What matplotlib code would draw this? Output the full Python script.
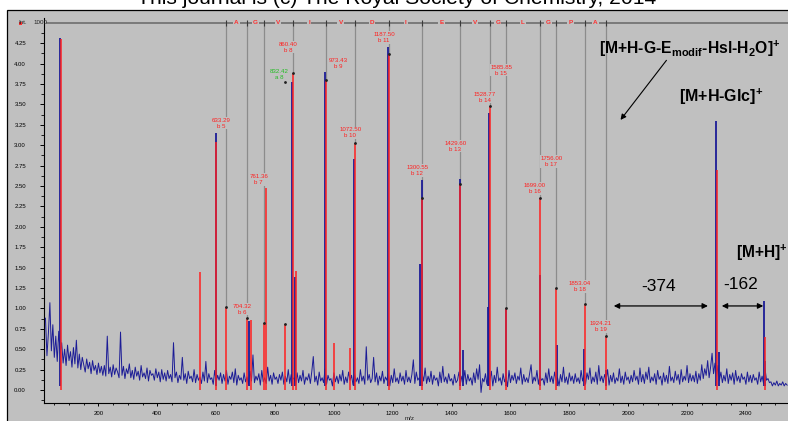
import numpy as np
import matplotlib
matplotlib.use('Agg')
import matplotlib.pyplot as plt
from matplotlib.patches import Rectangle
from matplotlib.ticker import FixedLocator, MultipleLocator

plt.rcParams['font.family'] = ['Liberation Sans', 'DejaVu Sans']
# only the bold fragment labels use mathtext
plt.rcParams['mathtext.fontset'] = 'custom'
plt.rcParams['mathtext.rm'] = 'Liberation Sans:bold'
plt.rcParams['mathtext.bf'] = 'Liberation Sans:bold'
plt.rcParams['mathtext.it'] = 'Liberation Sans:bold'

# b-ion ladder
b_names = ['b 5', 'b 6', 'b 7', 'b 8', 'b 9', 'b 10', 'b 11', 'b 12', 'b 13',
           'b 14', 'b 15', 'b 16', 'b 17', 'b 18', 'b 19']
b_mz = [633.29, 704.32, 761.36, 860.40, 973.43, 1072.50, 1187.50, 1300.55, 1429.60,
        1528.77, 1585.85, 1699.00, 1756.00, 1853.04, 1924.21]
b_int = [1.02, 0.88, 0.82, 3.89, 3.80, 3.03, 4.12, 2.35, 2.52,
         3.48, 1.00, 2.35, 1.25, 1.06, 0.66]
residues = ['A', 'G', 'V', 'I', 'V', 'D', 'I', 'E', 'V', 'G', 'L', 'G', 'P', 'A']

# label heights (intensity of the mass line) for the b-ion labels
b_label_y = [3.32, 1.04, 2.63, 4.25, 4.05, 3.20, 4.37, 2.74, 3.04,
             3.64, 3.97, 2.52, 2.85, 1.32, 0.83]

# a-ion
a_name = 'a 8'
a_mz = 832.42
a_int = 0.81

# red sticks (assigned peaks)
red_mz = [73, 545, 600, 633.29, 704.32, 717, 761.36, 770, 832.42, 860.40, 872,
          973.43, 1000, 1055, 1072.50, 1187.50, 1300.55, 1429.60, 1528.77, 1585.85,
          1699.00, 1756.00, 1853.04, 1924.21, 2302, 2464]
red_int = [4.30, 1.45, 3.04, 1.02, 0.88, 0.86, 0.82, 2.47, 0.81, 3.89, 1.46,
           3.80, 0.58, 0.52, 3.03, 4.12, 2.35, 2.52, 3.48, 1.00,
           2.35, 1.25, 1.06, 0.66, 2.70, 0.65]

# blue sticks (raw spectrum peaks)
blue_mz = [71, 598, 713, 857, 868, 971, 1069, 1185, 1298, 1294, 1427, 1440, 1526,
           1522, 1584, 1701, 1758, 1851, 1923, 2300, 2310, 2461, 2466]
blue_int = [4.31, 3.15, 0.84, 3.77, 1.39, 3.90, 2.83, 4.20, 2.57, 1.55, 2.59, 0.49, 3.40,
            1.02, 1.00, 1.41, 0.55, 0.50, 0.25, 3.30, 0.47, 1.09, 0.35]

# baseline noise, read every 5 m/z starting at m/z 20 (two rows = 200 m/z)
noise_start = 20
noise_step = 5
noise = [
    0.88, 0.42, 0.70, 1.07, 0.48, 0.80, 0.40, 0.66, 0.35, 0.72, 0.45, 0.58, 0.33, 0.50, 0.30, 0.55, 0.36, 0.47, 0.28, 0.52,
    0.32, 0.61, 0.27, 0.44, 0.25, 0.40, 0.31, 0.22, 0.38, 0.26, 0.34, 0.20, 0.36, 0.24, 0.30, 0.19, 0.33, 0.21, 0.29, 0.18,
    0.30, 0.17, 0.66, 0.20, 0.28, 0.16, 0.31, 0.19, 0.27, 0.22, 0.15, 0.71, 0.18, 0.29, 0.14, 0.26, 0.20, 0.32, 0.15, 0.24,
    0.13, 0.28, 0.17, 0.23, 0.12, 0.30, 0.16, 0.21, 0.14, 0.27, 0.11, 0.24, 0.18, 0.20, 0.12, 0.26, 0.15, 0.22, 0.10, 0.25,
    0.13, 0.21, 0.11, 0.24, 0.14, 0.19, 0.10, 0.58, 0.15, 0.22, 0.09, 0.18, 0.13, 0.40, 0.12, 0.20, 0.08, 0.23, 0.14, 0.17,
    0.10, 0.25, 0.09, 0.19, 0.12, 0.16, 0.08, 0.22, 0.11, 0.35, 0.09, 0.20, 0.13, 0.15, 0.07, 0.24, 0.10, 0.18, 0.12, 0.21,
    0.08, 0.19, 0.11, 0.24, 0.07, 0.17, 0.13, 0.22, 0.09, 0.26, 0.06, 0.18, 0.12, 0.15, 0.08, 0.21, 0.10, 0.16, 0.07, 0.23,
    0.11, 0.43, 0.09, 0.17, 0.12, 0.20, 0.06, 0.24, 0.10, 0.15, 0.08, 0.28, 0.11, 0.18, 0.07, 0.21, 0.13, 0.16, 0.08, 0.19,
    0.12, 0.22, 0.07, 0.17, 0.10, 0.25, 0.08, 0.19, 0.13, 0.15, 0.06, 0.21, 0.09, 0.18, 0.11, 0.24, 0.07, 0.16, 0.12, 0.20,
    0.08, 0.23, 0.41, 0.10, 0.17, 0.06, 0.22, 0.11, 0.15, 0.09, 0.26, 0.07, 0.18, 0.12, 0.14, 0.05, 0.21, 0.10, 0.17, 0.08,
    0.19, 0.11, 0.24, 0.07, 0.16, 0.09, 0.22, 0.12, 0.18, 0.06, 0.20, 0.10, 0.15, 0.08, 0.25, 0.11, 0.17, 0.07, 0.53, 0.12,
    0.19, 0.09, 0.14, 0.40, 0.10, 0.21, 0.06, 0.17, 0.11, 0.23, 0.08, 0.16, 0.12, 0.20, 0.05, 0.18, 0.09, 0.26, 0.10, 0.15,
    0.08, 0.21, 0.11, 0.17, 0.07, 0.24, 0.10, 0.16, 0.09, 0.19, 0.37, 0.08, 0.22, 0.12, 0.15, 0.06, 0.20, 0.11, 0.27, 0.08,
    0.17, 0.10, 0.23, 0.07, 0.18, 0.12, 0.15, 0.05, 0.22, 0.09, 0.29, 0.10, 0.16, 0.08, 0.20, 0.11, 0.14, 0.06, 0.19, 0.09,
    0.12, 0.22, 0.08, 0.17, 0.10, 0.24, 0.07, 0.19, 0.11, 0.15, 0.06, 0.21, 0.09, 0.26, 0.13, 0.31, -0.03, 0.14, 0.10, 0.20,
    0.07, 0.17, 0.12, 0.23, 0.05, 0.18, 0.09, 0.28, 0.11, 0.15, 0.06, 0.20, 0.10, 0.16, 0.04, 0.24, 0.09, 0.18, 0.12, 0.21,
    0.08, 0.17, 0.12, 0.27, 0.07, 0.19, 0.10, 0.15, 0.09, 0.20, 0.31, 0.08, 0.16, 0.11, 0.24, 0.07, 0.18, 0.12, 0.14, 0.06,
    0.21, 0.09, 0.26, 0.10, 0.17, 0.08, 0.22, 0.12, 0.15, 0.05, 0.19, 0.10, 0.28, 0.09, 0.16, 0.07, 0.21, 0.11, 0.17, 0.08,
    0.20, 0.10, 0.15, 0.08, 0.24, 0.11, 0.18, 0.07, 0.21, 0.13, 0.27, 0.08, 0.16, 0.10, 0.22, 0.07, 0.30, 0.11, 0.17, 0.09,
    0.19, 0.12, 0.25, 0.06, 0.18, 0.10, 0.21, 0.08, 0.15, 0.11, 0.26, 0.09, 0.17, 0.07, 0.22, 0.12, 0.16, 0.08, 0.18, 0.10,
    0.24, 0.12, 0.17, 0.07, 0.27, 0.10, 0.19, 0.08, 0.22, 0.13, 0.28, 0.09, 0.16, 0.11, 0.20, 0.07, 0.24, 0.13, 0.17, 0.06,
    0.21, 0.10, 0.18, 0.08, 0.29, 0.11, 0.16, 0.09, 0.23, 0.12, 0.19, 0.07, 0.25, 0.10, 0.17, 0.12, 0.30, 0.09, 0.20, 0.11,
    0.18, 0.10, 0.23, 0.08, 0.20, 0.12, 0.31, 0.14, 0.26, 0.18, 0.36, 0.15, 0.28, 0.45, 0.20, 0.33, 0.16, 0.30, 0.12, 0.22,
    0.09, 0.18, 0.11, 0.26, 0.08, 0.19, 0.12, 0.21, 0.07, 0.24, 0.11, 0.17, 0.09, 0.20, 0.13, 0.16, 0.07, 0.22, 0.10, 0.18,
    0.09, 0.19, 0.12, 0.15, 0.07, 0.22, 0.10, 0.17, 0.08, 0.26, 0.12, 0.14, 0.09, 0.10, 0.05, 0.09, 0.06, 0.11, 0.05, 0.08,
    0.06, 0.10, 0.05, 0.08, 0.06,
]

y_ticks = [0.00, 0.25, 0.50, 0.75, 1.00, 1.25, 1.50, 1.75, 2.00, 2.25,
           2.50, 2.75, 3.00, 3.25, 3.50, 3.75, 4.00, 4.25]
x_ticks = [200, 400, 600, 800, 1000, 1200, 1400, 1600, 1800, 2000, 2200, 2400]

W, H = 788, 421
BG = '#c0c0c0'
RED = '#ff2020'
BLUE = '#1c1c96'
LADDER_Y = 4.50

fig = plt.figure(figsize=(W / 100, H / 100), dpi=100)
fig.patch.set_facecolor('white')
fig.patches.append(Rectangle((7 / W, -0.01), 1.0, (H - 10) / H + 0.01, transform=fig.transFigure,
                             facecolor=BG, edgecolor='black', lw=0.9, zorder=-10))
fig.text(397 / W, 1 - 3.5 / H, 'This journal is (c) The Royal Society of Chemistry, 2014',
         ha='center', va='baseline', fontsize=15.2, color='black')

ax = fig.add_axes([44 / W, 1 - 403.3 / H, 1 - 44 / W, (403.3 - 18.3) / H])
ax.set_facecolor('none')
ax.set_xlim(15, 2543)
ax.set_ylim(-0.163, 4.555)
for s in ['top', 'right']:
    ax.spines[s].set_visible(False)
for s in ['left', 'bottom']:
    ax.spines[s].set_linewidth(0.8)

ax.yaxis.set_major_locator(FixedLocator(y_ticks))
ax.yaxis.set_minor_locator(FixedLocator(np.arange(-0.125, 4.4, 0.125)))
ax.set_yticklabels(['%.2f' % t for t in y_ticks])
ax.xaxis.set_major_locator(FixedLocator(x_ticks))
ax.xaxis.set_minor_locator(MultipleLocator(50))
ax.set_xticklabels([str(t) for t in x_ticks])
ax.tick_params(axis='y', which='major', length=3, width=0.7, pad=10, labelsize=4.3)
ax.tick_params(axis='y', which='minor', length=2, width=0.6)
ax.tick_params(axis='x', which='major', length=2.5, width=0.7, pad=3, labelsize=4.3)
ax.tick_params(axis='x', which='minor', length=1.5, width=0.6)

# sequence ladder on top
ax.plot([26, 2543], [LADDER_Y, LADDER_Y], color='#6e6e6e', lw=1.2, zorder=1, clip_on=False)
ax.plot(b_mz, [LADDER_Y] * len(b_mz), ls='none', marker='|', ms=4, mew=0.8,
        color='#3a3a3a', zorder=2, clip_on=False)
for i, aa in enumerate(residues):
    mid = (b_mz[i] + b_mz[i + 1]) / 2
    ax.text(mid, LADDER_Y, aa, ha='center', va='center', fontsize=4.6, color='#ff3030',
            fontweight='bold', zorder=3,
            bbox=dict(facecolor=BG, edgecolor='none', pad=0.8))

# gray guide lines from ladder down to each b-ion peak
ax.vlines(b_mz, b_int, LADDER_Y, color='#8c8c8c', lw=0.9, zorder=1)
ax.plot(b_mz, b_int, ls='none', marker='o', ms=1.0, color='#202020', zorder=6)

# noise trace
noise_mz = noise_start + noise_step * np.arange(len(noise))
ax.plot(noise_mz, noise, color=BLUE, lw=0.7, zorder=4)

# sticks
ax.vlines(blue_mz, 0.05, blue_int, color=BLUE, lw=1.3, zorder=4)
ax.vlines(red_mz, 0, red_int, color=RED, lw=1.1, zorder=5)

# b-ion labels
for name, mz, ly in zip(b_names, b_mz, b_label_y):
    dx = 40 if name == 'b 9' else -17
    ax.text(mz + dx, ly - 0.05, '%.2f\n%s' % (mz, name), ha='center', va='center',
            fontsize=4.4, color='#ff2020', linespacing=1.25, zorder=3,
            bbox=dict(facecolor=BG, edgecolor='none', pad=0.5))
ax.text(a_mz - 17, 3.87, '%.2f\n%s' % (a_mz, a_name), ha='center', va='center',
        fontsize=4.4, color='#22bb22', linespacing=1.25, zorder=3)
ax.plot([a_mz, a_mz], [3.77, a_int], ls='none', marker='o', ms=1.0, color='#202020', zorder=6)

# fragment annotations
ax.text(1900, 4.18, r'$\text{[M+H-G-E}_{\text{modif}}\text{-Hsl-H}_{\text{2}}\text{O]}^{\text{+}}$',
        ha='left', va='center', fontsize=11.3)
ax.text(2317, 3.59, r'$\text{[M+H-Glc]}^{\text{+}}$', ha='center', va='center', fontsize=11.5)
ax.text(2367, 1.675, r'$\text{[M+H]}^{\text{+}}$', ha='left', va='center', fontsize=11.2)
ax.text(2104, 1.27, '-374', ha='center', va='center', fontsize=12.5)
ax.text(2381, 1.29, '-162', ha='center', va='center', fontsize=12.5)
arrow2 = dict(arrowstyle='<|-|>', color='black', lw=0.9, mutation_scale=8, shrinkA=0, shrinkB=0)
ax.annotate('', xy=(1951, 1.03), xytext=(2271, 1.03), arrowprops=arrow2)
ax.annotate('', xy=(2318, 1.03), xytext=(2459, 1.03), arrowprops=arrow2)
ax.annotate('', xy=(1974, 3.31), xytext=(2130, 4.04),
            arrowprops=dict(arrowstyle='-|>', color='black', lw=0.8, mutation_scale=8,
                            shrinkA=0, shrinkB=0))

# axis captions
fig.text(27 / W, 1 - 23 / H, 'Int.', ha='right', va='center', fontsize=4.5, color='#202020')
fig.patches.append(Rectangle((19 / W, 1 - 25 / H), 3 / W, 3 / H, transform=fig.transFigure,
                             facecolor='#ff3030', edgecolor='none'))
fig.text(47 / W, 1 - 23 / H, '1000', ha='right', va='center', fontsize=4.5, color='#202020')
fig.text(410 / W, 1 - 416 / H, 'm/z', ha='center', va='top', fontsize=4.5, color='#202020')

fig.savefig('out.png', dpi=100)
